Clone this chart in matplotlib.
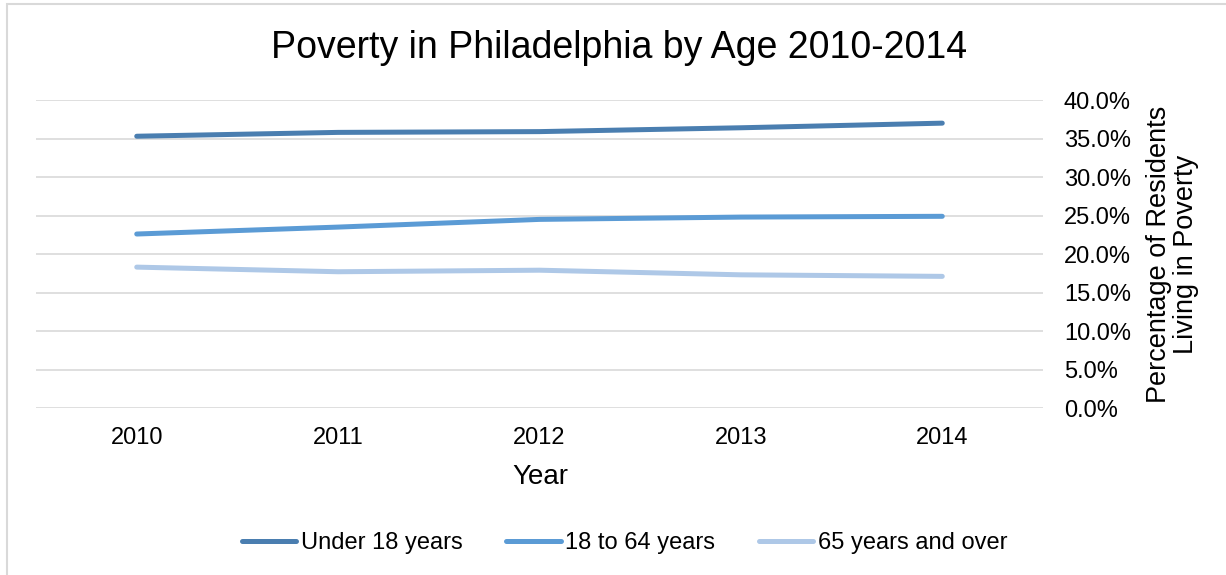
import matplotlib
matplotlib.use("Agg")
import matplotlib.pyplot as plt
from matplotlib.patches import Rectangle
from matplotlib.ticker import FuncFormatter, MultipleLocator

years = ["2010", "2011", "2012", "2013", "2014"]
under_18 = [35.3, 35.8, 35.9, 36.4, 37.0]
age_18_64 = [22.6, 23.5, 24.5, 24.8, 24.9]
age_65_over = [18.3, 17.7, 17.9, 17.3, 17.1]

series = [
    ("Under 18 years", under_18, "#4a7eb0"),
    ("18 to 64 years", age_18_64, "#5b9bd5"),
    ("65 years and over", age_65_over, "#aec8e7"),
]

plt.rcParams["font.family"] = ["Liberation Sans", "DejaVu Sans"]

fig = plt.figure(figsize=(12.26, 5.75), dpi=100)
ax = fig.add_axes([0.0294, 0.2904, 0.8213, 0.5356])

x = list(range(len(years)))
for label, vals, col in series:
    ax.plot(x, vals, color=col, lw=3.6, solid_capstyle="round", label=label)

ax.set_xlim(-0.5, len(years) - 0.5)
ax.set_ylim(0, 40)
ax.yaxis.set_major_locator(MultipleLocator(5))
ax.yaxis.set_major_formatter(FuncFormatter(lambda v, p: f"{v:.1f}%"))
ax.yaxis.tick_right()
ax.set_xticks(x)
ax.set_xticklabels(years)
ax.tick_params(axis="y", length=0, pad=15, labelsize=17)
ax.tick_params(axis="x", length=0, pad=14, labelsize=17)
ax.grid(axis="y", color="#d9d9d9", lw=1.2)
ax.set_axisbelow(True)
for s in ax.spines.values():
    s.set_visible(False)

fig.text(0.505, 0.916, "Poverty in Philadelphia by Age 2010-2014",
         ha="center", va="center", fontsize=27)
fig.text(0.4405, 0.1705, "Year", ha="center", va="center", fontsize=20)
fig.text(0.9565, 0.558, "Percentage of Residents\nLiving in Poverty",
         ha="center", va="center", rotation=90, fontsize=19.5,
         multialignment="center", linespacing=1.05)

handles, labels = ax.get_legend_handles_labels()
fig.legend(handles, labels, loc="center", bbox_to_anchor=(0.5095, 0.055),
           ncol=3, frameon=False, fontsize=17, handlelength=2.3,
           handletextpad=0.2, columnspacing=1.85)

fig.patches.append(Rectangle((7 / 1226, -0.1), 1.2, 1 - 4 / 575 + 0.1,
                             transform=fig.transFigure, fill=False,
                             edgecolor="#d9d9d9", lw=1.5))

fig.savefig("out.png", dpi=100)
